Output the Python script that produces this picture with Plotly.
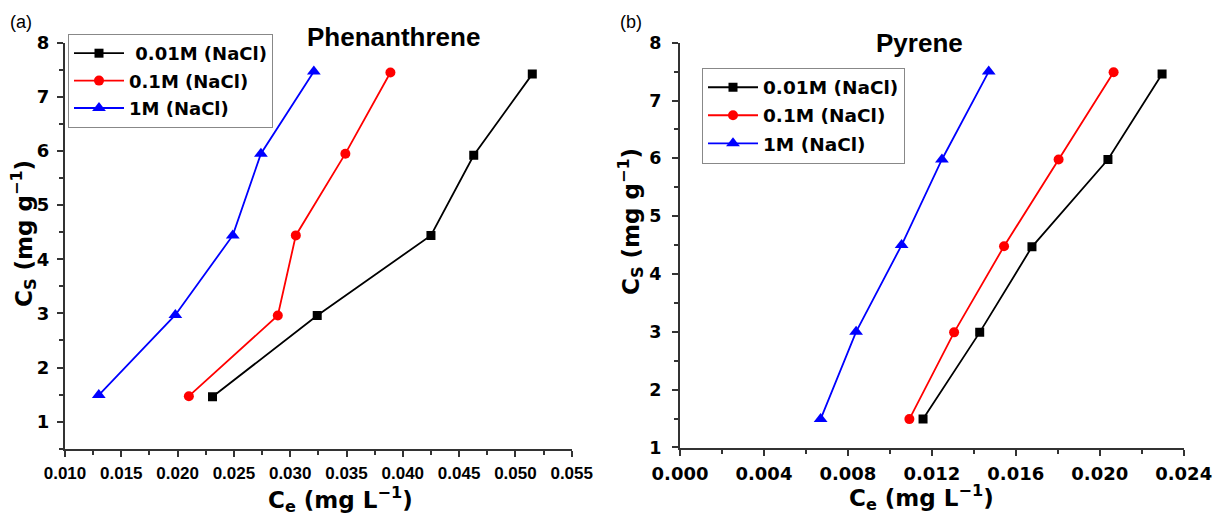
import plotly.graph_objects as go

# ---- Data ----
series_names = ["\u00a00.01M (NaCl)", "0.1M (NaCl)", "1M (NaCl)"]
series_names_b = ["0.01M (NaCl)", "0.1M (NaCl)", "1M (NaCl)"]

phen_ce_001 = [0.0231, 0.0324, 0.0425, 0.0463, 0.0515]
phen_cs_001 = [1.46, 2.96, 4.44, 5.92, 7.42]
phen_ce_01 = [0.0210, 0.0289, 0.0305, 0.0349, 0.0389]
phen_cs_01 = [1.47, 2.96, 4.44, 5.95, 7.45]
phen_ce_1 = [0.0130, 0.0198, 0.0249, 0.0274, 0.0321]
phen_cs_1 = [1.49, 2.97, 4.44, 5.95, 7.47]

pyr_ce_001 = [0.01158, 0.01428, 0.01677, 0.02039, 0.02297]
pyr_cs_001 = [1.49, 2.99, 4.47, 5.98, 7.46]
pyr_ce_01 = [0.01093, 0.01306, 0.01544, 0.01804, 0.02066]
pyr_cs_01 = [1.49, 2.99, 4.48, 5.98, 7.49]
pyr_ce_1 = [0.0067, 0.00839, 0.01056, 0.01248, 0.01471]
pyr_cs_1 = [1.49, 3.00, 4.50, 5.98, 7.50]

phen_xticks = [0.010, 0.015, 0.020, 0.025, 0.030, 0.035, 0.040, 0.045, 0.050, 0.055]
pyr_xticks = [0.000, 0.004, 0.008, 0.012, 0.016, 0.020, 0.024]
y_ticks = [1, 2, 3, 4, 5, 6, 7, 8]

colors = ["#000000", "#ff0000", "#0000ff"]
symbols = ["square", "circle", "triangle-up"]
msizes = [9, 10, 12]

# Page has an 8px body margin; size the figure so it fits the 1227x518 window
OFF = 8
W, H = 1227 - OFF, 518 - OFF


def px(x):
    return (x - OFF) / W


def py(y):
    return 1 - (y - OFF) / H


fig = go.Figure()

phen = [(phen_ce_001, phen_cs_001), (phen_ce_01, phen_cs_01), (phen_ce_1, phen_cs_1)]
pyr = [(pyr_ce_001, pyr_cs_001), (pyr_ce_01, pyr_cs_01), (pyr_ce_1, pyr_cs_1)]

for i, (x, y) in enumerate(phen):
    fig.add_trace(go.Scatter(
        x=x, y=y, mode="lines+markers", name=series_names[i],
        line=dict(color=colors[i], width=1.8),
        marker=dict(symbol=symbols[i], size=msizes[i], color=colors[i]),
        xaxis="x", yaxis="y", legend="legend", legendgroup="a%d" % i))

for i, (x, y) in enumerate(pyr):
    fig.add_trace(go.Scatter(
        x=x, y=y, mode="lines+markers", name=series_names_b[i],
        line=dict(color=colors[i], width=1.8),
        marker=dict(symbol=symbols[i], size=msizes[i], color=colors[i]),
        xaxis="x2", yaxis="y2", legend="legend2", legendgroup="b%d" % i))

axcol = "#333333"
common = dict(showline=True, linecolor=axcol, linewidth=2, ticks="outside",
              ticklen=6, tickwidth=1.5, tickcolor=axcol, showgrid=False,
              zeroline=False, mirror=False)

fig.update_layout(
    width=W, height=H, template="none",
    margin=dict(l=0, r=0, t=0, b=0),
    paper_bgcolor="white", plot_bgcolor="white",
    xaxis=dict(domain=[px(65), px(571.7)], range=[0.010, 0.055],
               tickvals=phen_xticks, tickformat=".3f",
               minor=dict(dtick=0.0025, ticklen=4, tickcolor=axcol, ticks="outside"),
               tickfont=dict(family="Liberation Sans", size=17, color="black", weight="bold"),
               ticklabelstandoff=2, anchor="y", **common),
    yaxis=dict(domain=[py(448.7), py(42.7)], range=[0.5, 8],
               tickvals=y_ticks,
               minor=dict(dtick=0.5, ticklen=4, tickcolor=axcol, ticks="outside"),
               tickfont=dict(family="DejaVu Sans", size=18, color="black", weight="bold"),
               ticklabelstandoff=4, anchor="x", **common),
    xaxis2=dict(domain=[px(680), px(1183.7)], range=[0.0, 0.024],
                tickvals=pyr_xticks, tickformat=".3f",
                minor=dict(dtick=0.002, ticklen=4, tickcolor=axcol, ticks="outside"),
                tickfont=dict(family="DejaVu Sans", size=18, color="black", weight="bold"),
                ticklabelstandoff=2, anchor="y2", **common),
    yaxis2=dict(domain=[py(448.3), py(42.7)], range=[0.985, 8],
                tickvals=y_ticks,
                minor=dict(dtick=0.5, ticklen=4, tickcolor=axcol, ticks="outside"),
                tickfont=dict(family="DejaVu Sans", size=17.5, color="black", weight="bold"),
                ticklabelstandoff=7, anchor="x2", **common),
    legend=dict(x=px(68), y=py(34), xanchor="left", yanchor="top",
                bgcolor="white", bordercolor="#888888", borderwidth=1,
                font=dict(family="DejaVu Sans", size=18, color="black", weight="bold"),
                itemwidth=50, tracegroupgap=1),
    legend2=dict(x=px(702), y=py(67.7), xanchor="left", yanchor="top",
                 bgcolor="white", bordercolor="#888888", borderwidth=1,
                 font=dict(family="DejaVu Sans", size=18.5, color="black", weight="bold"),
                 itemwidth=50, tracegroupgap=1),
    showlegend=True,
)

ann_font_b = dict(family="DejaVu Sans", size=23, color="black", weight="bold")
annotations = [
    dict(text="(a)", x=px(21), y=py(22), font=dict(family="Liberation Sans", size=18, color="black")),
    dict(text="(b)", x=px(631), y=py(22), font=dict(family="Liberation Sans", size=18, color="black")),
    dict(text="Phenanthrene", x=px(393), y=py(37),
         font=dict(family="Liberation Sans", size=26, color="black", weight="bold")),
    dict(text="Pyrene", x=px(919), y=py(43),
         font=dict(family="Liberation Sans", size=26, color="black", weight="bold")),
    dict(text="C<sub>e</sub> (mg L<sup>\u22121</sup>)", x=px(340), y=py(499), font=ann_font_b),
    dict(text="C<sub>e</sub> (mg L<sup>\u22121</sup>)", x=px(921), y=py(497), font=ann_font_b),
    dict(text="C<sub>S</sub> (mg g<sup>\u22121</sup>)", x=px(23), y=py(234), textangle=-90, font=ann_font_b),
    dict(text="C<sub>S</sub> (mg g<sup>\u22121</sup>)", x=px(630), y=py(222), textangle=-90, font=ann_font_b),
]
for a in annotations:
    a.update(xref="paper", yref="paper", showarrow=False, xanchor="center", yanchor="middle")
fig.update_layout(annotations=annotations)

fig.write_html("out.html")
